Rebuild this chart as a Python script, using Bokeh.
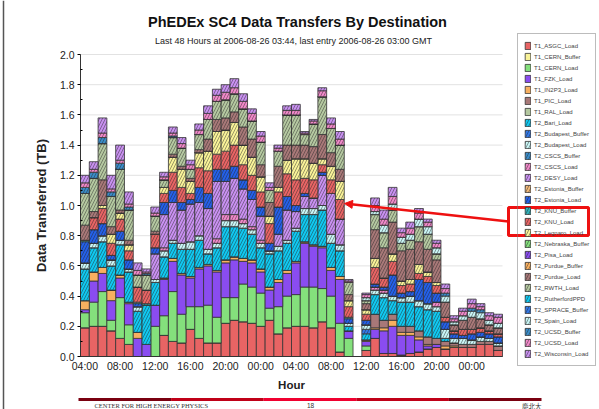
from bokeh.plotting import figure
from bokeh.models import (Range1d, FixedTicker, Label, BoxAnnotation, Arrow,
                          NormalHead, ColumnDataSource)
from bokeh.embed import file_html
from bokeh.resources import INLINE

# ---------------- data ----------------
hours = list(range(48))
tick_positions = [0, 4, 8, 12, 16, 20, 24, 28, 32, 36, 40, 44]
tick_labels = ["04:00", "08:00", "12:00", "16:00", "20:00", "00:00",
               "04:00", "08:00", "12:00", "16:00", "20:00", "00:00"]
y_ticks = [0, .2, .4, .6, .8, 1.0, 1.2, 1.4, 1.6, 1.8, 2.0]
y_minor = [.1, .3, .5, .7, .9, 1.1, 1.3, 1.5, 1.7, 1.9]

series_names = [
    "T1_ASGC_Load", "T1_CERN_Buffer", "T1_CERN_Load", "T1_FZK_Load", "T1_IN2P3_Load",
    "T1_PIC_Load", "T1_RAL_Load", "T2_Bari_Load", "T2_Budapest_Buffer", "T2_Budapest_Load",
    "T2_CSCS_Buffer", "T2_CSCS_Load", "T2_DESY_Load", "T2_Estonia_Buffer", "T2_Estonia_Load",
    "T2_KNU_Buffer", "T2_KNU_Load", "T2_Legnaro_Load", "T2_Nebraska_Buffer", "T2_Pisa_Load",
    "T2_Purdue_Buffer", "T2_Purdue_Load", "T2_RWTH_Load", "T2_RutherfordPPD", "T2_SPRACE_Buffer",
    "T2_Spain_Load", "T2_UCSD_Buffer", "T2_UCSD_Load", "T2_Wisconsin_Load"]

series_colors = [
    "#e86464", "#f8f298", "#84e07c", "#8a4cf0", "#f8b060", "#a87878", "#b4c8a0",
    "#10c8f0", "#3278e6", "#c8f4f4", "#3a8cc8", "#f088c8", "#c890f0", "#f0b878",
    "#2460e8", "#30b0b8", "#e86464", "#f8f298", "#84e07c", "#8a4cf0", "#f8b060",
    "#a87878", "#b4c8a0", "#10c8f0", "#3278e6", "#c8f4f4", "#3a8cc8", "#f088c8",
    "#c890f0"]

T1_ASGC_Load = [.19, .20, .20, .17, .12, .08, 0, 0, 0, .14, .10, .09, .18, .12, .09, .09, .22, .24, .23, .22, .20, .24, .15, .19, .20, .20, .19, .23, .19, .03, 0, 0, .04, .12, .02, .02, .01, .02, .03, .05, .06, .05, .06, .06, .06, .08, .08, .04]
T1_CERN_Buffer = [0] * 48
T1_CERN_Load = [.10, .16, .23, .07, .27, .13, 0, 0, .20, .13, .33, .19, .15, .21, .25, .17, .17, .15, .25, .24, .22, .08, .18, .21, .21, .26, .27, .22, .21, .19, .12, 0, .03, 0, 0, 0, 0, 0, 0, 0, 0, 0, 0, 0, 0, 0, 0, 0]
T1_FZK_Load = [.02, .14, .12, .13, .13, .14, .12, .08, .14, .24, .20, .26, .19, .25, .26, .30, .23, .25, .15, .16, .14, .12, .16, .15, .21, .29, .27, .27, .17, .29, .05, 0, .03, .06, .15, .18, .13, .12, .08, .02, .02, 0, 0, 0, 0, 0, 0, 0]
T1_IN2P3_Load = [.06, .06, .04, .07, .02, .01, .04, 0, 0, .01, .02, .01, .01, .01, .01, .01, .02, .02, .02, .02, .02, .02, .02, .02, .01, .01, .01, .01, .02, .02, 0, 0, .01, .01, .02, .04, .02, .02, .02, .01, 0, .02, .01, 0, 0, 0, 0, 0]
T1_PIC_Load = [0, 0, 0, 0, 0, 0, 0, 0, 0, 0, 0, 0, 0, 0, 0, 0, 0, 0, 0, 0, 0, 0, 0, 0, 0, 0, 0, 0, 0, 0, 0, 0, 0, .09, .05, .04, .04, .04, .04, .05, .04, .03, .02, .02, .02, .02, .02, .03]
T1_RAL_Load = [0] * 48
T2_Bari_Load = [.21, .16, .17, .16, .20, .20, .14, .26, .15, .14, .10, .16, .18, .18, .07, .15, .22, .20, .20, .17, .14, .22, .19, .18, .20, .18, .20, .24, .16, .17, .03, 0, .04, .13, .15, .09, .16, .16, .16, .18, .18, .02, 0, 0, 0, 0, 0, 0]
T2_Budapest_Buffer = [0, 0, 0, 0, 0, 0, 0, 0, 0, 0, 0, 0, 0, 0, 0, 0, 0, 0, 0, 0, 0, 0, 0, 0, 0, 0, 0, 0, 0, 0, 0, 0, .03, 0, 0, 0, 0, 0, 0, 0, 0, 0, 0, 0, 0, 0, 0, 0]
T2_Budapest_Load = [.04, .03, .04, .04, .03, .02, .03, 0, .02, .04, .02, .04, .05, .03, .03, .03, .04, .04, .03, .03, .03, .02, .03, .02, .02, .04, .04, .03, .06, .04, .02, 0, .03, .03, .03, .03, .03, .04, .04, .04, .03, .06, .03, .04, .03, .03, .02, .02]
T2_CSCS_Buffer = [0] * 48
T2_CSCS_Load = [0, 0, 0, 0, 0, 0, 0, 0, 0, .02, 0, 0, 0, 0, 0, .03, .04, .04, .03, .02, .02, 0, 0, 0, 0, 0, 0, 0, 0, 0, 0, 0, 0, .02, .02, 0, 0, 0, 0, 0, .03, 0, 0, 0, 0, 0, 0, 0]
T2_DESY_Load = [0, 0, 0, 0, 0, 0, 0, 0, .17, .22, .25, .22, .25, .22, .27, .38, .22, .24, .20, .18, .16, 0, .08, .20, .11, .08, .07, .20, .27, .17, 0, 0, 0, 0, 0, 0, 0, 0, 0, 0, 0, 0, 0, 0, 0, 0, 0, 0]
T2_Estonia_Buffer = [0] * 48
T2_Estonia_Load = [.14, .09, .08, .03, .06, .06, .02, 0, .04, .08, .08, .05, .03, .10, .10, .08, .08, .08, .06, .06, .06, .05, .18, .09, .04, .02, 0, .02, 0, 0, .03, 0, .03, .02, .02, .14, .03, .03, .14, .14, .06, .05, .03, .02, .04, .03, .03, .04]
T2_KNU_Buffer = [.01, 0, 0, 0, 0, 0, .01, .01, 0, 0, 0, 0, 0, 0, 0, 0, 0, 0, 0, 0, 0, 0, 0, 0, 0, 0, 0, 0, 0, 0, .01, 0, 0, 0, 0, 0, 0, 0, 0, 0, 0, 0, 0, 0, 0, 0, 0, 0]
T2_KNU_Load = [0, .08, .10, .08, .08, .06, .10, .09, .09, .06, .12, .10, .04, .13, .15, .10, .12, .14, .10, .10, .10, .13, .10, .15, .17, .10, .12, .05, .09, .13, .07, 0, .04, .11, .06, .09, .05, .05, .04, .04, .05, .03, .02, .04, .03, .03, .02, .02]
T2_Legnaro_Load = [0, 0, .02, .06, .04, .04, 0, 0, 0, .04, .10, .12, .08, .10, .13, .15, .14, .15, .13, .12, .10, .05, .03, .09, .14, .13, .11, .04, .09, .12, .04, 0, .03, .06, 0, .05, .03, .03, .06, .03, .02, 0, 0, 0, 0, 0, 0, 0]
T2_Nebraska_Buffer = [0] * 48
T2_Pisa_Load = [0] * 48
T2_Purdue_Buffer = [0] * 48
T2_Purdue_Load = [.10, .04, .17, .05, .02, .03, 0, 0, .02, 0, .02, .02, .02, .02, .08, .08, .08, .07, .12, .12, .08, .09, .14, .10, .09, .09, .11, .16, .09, .08, .04, 0, .04, .19, .20, .21, .20, .20, .15, .15, .15, .10, .04, .06, .08, .06, .04, .04]
T2_RWTH_Load = [.21, .22, .24, .20, .27, .20, .08, .10, .10, .05, .11, .12, .06, .10, .13, .12, .12, .12, .12, .12, .15, .08, .10, .20, .20, .07, .15, .25, .16, .16, .08, 0, .02, .10, .10, .08, .05, .06, .10, .10, .04, 0, 0, 0, 0, 0, 0, 0]
T2_RutherfordPPD = [0] * 48
T2_SPRACE_Buffer = [0] * 48
T2_Spain_Load = [0, 0, 0, 0, 0, 0, 0, 0, 0, 0, 0, 0, 0, 0, 0, 0, 0, 0, 0, 0, 0, 0, 0, 0, 0, 0, 0, 0, 0, 0, 0, 0, .02, .02, .05, .04, .04, .04, .05, .05, .04, .04, .02, .03, .04, .04, .03, .03]
T2_UCSD_Buffer = [.04, .04, .04, .03, .04, .02, 0, .01, 0, 0, .01, 0, 0, 0, 0, 0, 0, 0, 0, 0, 0, 0, 0, 0, 0, 0, 0, 0, 0, 0, 0, 0, 0, 0, 0, 0, 0, 0, 0, 0, 0, .02, 0, 0, .02, .02, 0, 0]
T2_UCSD_Load = [.03, .02, .03, .02, .02, .02, .03, .01, .02, .02, .02, .03, .03, .03, .04, .04, .05, .04, .05, .05, .04, .02, .02, .03, .03, .01, .02, .04, .03, .04, .01, 0, .02, .04, .04, .05, .03, .04, .04, .03, .03, .03, .02, .03, .03, .02, .03, .04]
T2_Wisconsin_Load = [.05, .05, .10, .09, .10, .08, .05, .02, .04, .03, .04, .04, .03, .04, .05, .04, .05, .06, .05, .03, .03, .03, .02, .03, .04, .01, .01, .02, .04, .05, .01, 0, .01, .05, .06, .06, .03, .04, .03, .02, .02, .03, .02, .02, .03, .02, .02, .02]

series_values = [
    T1_ASGC_Load, T1_CERN_Buffer, T1_CERN_Load, T1_FZK_Load, T1_IN2P3_Load,
    T1_PIC_Load, T1_RAL_Load, T2_Bari_Load, T2_Budapest_Buffer, T2_Budapest_Load,
    T2_CSCS_Buffer, T2_CSCS_Load, T2_DESY_Load, T2_Estonia_Buffer, T2_Estonia_Load,
    T2_KNU_Buffer, T2_KNU_Load, T2_Legnaro_Load, T2_Nebraska_Buffer, T2_Pisa_Load,
    T2_Purdue_Buffer, T2_Purdue_Load, T2_RWTH_Load, T2_RutherfordPPD, T2_SPRACE_Buffer,
    T2_Spain_Load, T2_UCSD_Buffer, T2_UCSD_Load, T2_Wisconsin_Load]

# ---------------- figure ----------------
W, H = 599, 409
# frame covers the whole canvas; axes are pinned inside it
PX_PER_HOUR = 422 / 48.0      # bars occupy pixels 80..502
PX_PER_TB = 151.0             # 0 TB at y=356, 2 TB at y=54
x0 = -0.5 - 80 / PX_PER_HOUR
x1 = -0.5 + (W - 80) / PX_PER_HOUR
y0 = -(H - 356) / PX_PER_TB
y1 = 356 / PX_PER_TB

p = figure(width=W, height=H, output_backend="svg", toolbar_location=None,
           title=None, x_range=Range1d(x0, x1), y_range=Range1d(y0, y1),
           min_border_left=0, min_border_right=0, min_border_top=0,
           min_border_bottom=0)
p.outline_line_color = None
p.background_fill_color = "white"
p.border_fill_color = "white"
p.xgrid.visible = False
p.ygrid.visible = False

# horizontal grid lines across the bar area
p.segment(x0=[-0.5] * len(y_ticks[1:]), x1=[47.5] * len(y_ticks[1:]),
          y0=y_ticks[1:], y1=y_ticks[1:], line_color="#e2e2e2", line_width=1,
          level="underlay")

keys = ["s%d" % i for i in range(len(series_names))]
data = {"x": hours}
for k, v in zip(keys, series_values):
    data[k] = v
source = ColumnDataSource(data)

hatches = [" " if n.startswith("T1") else "/" for n in series_names]
p.vbar_stack(keys, x="x", width=1.0, source=source,
             fill_color=series_colors, line_color="#333333", line_width=0.8,
             hatch_pattern=hatches, hatch_color="#222222", hatch_alpha=0.75,
             hatch_scale=6, hatch_weight=0.6,
             legend_label=series_names)

# axes (pinned at the data origin)
p.xaxis.fixed_location = 0
p.xaxis.bounds = (-0.5, 47.5)
p.xaxis.ticker = FixedTicker(ticks=tick_positions)
p.xaxis.major_label_overrides = {t: l for t, l in zip(tick_positions, tick_labels)}
p.xaxis.major_tick_out = 0
p.xaxis.major_tick_in = 0
p.xaxis.minor_tick_out = 0
p.xaxis.axis_line_color = "#333333"
p.xaxis.major_label_standoff = 3
p.xaxis.major_label_text_font = "Liberation Sans"
p.xaxis.major_label_text_font_size = "10.5px"
p.xaxis.major_label_text_color = "#222222"
p.xaxis.axis_label = "Hour"
p.xaxis.axis_label_text_font = "Liberation Sans"
p.xaxis.axis_label_text_font_style = "bold"
p.xaxis.axis_label_text_font_size = "11.5px"
p.xaxis.axis_label_standoff = 4
p.xaxis.axis_label_text_color = "#222222"

p.yaxis.fixed_location = -0.5
p.yaxis.bounds = (0, 2.0)
p.yaxis.ticker = FixedTicker(ticks=y_ticks, minor_ticks=y_minor)
p.yaxis.major_label_overrides = {0: "0.0", 1.0: "1.0", 2.0: "2.0"}
p.yaxis.major_tick_out = 3
p.yaxis.major_tick_in = 0
p.yaxis.minor_tick_in = 2
p.yaxis.minor_tick_out = 0
p.yaxis.axis_line_color = "#333333"
p.yaxis.major_label_standoff = 3
p.yaxis.major_label_text_font = "Liberation Sans"
p.yaxis.major_label_text_font_size = "10.5px"
p.yaxis.major_label_text_color = "#222222"
p.yaxis.axis_label = "Data Transferred (TB)"
p.yaxis.axis_label_text_font = "Liberation Sans"
p.yaxis.axis_label_text_font_style = "bold"
p.yaxis.axis_label_text_font_size = "13px"
p.yaxis.axis_label_standoff = 8
p.yaxis.axis_label_text_color = "#222222"

# legend (transparent fill so the red box over it stays visible)
leg = p.legend[0]
leg.location = (517, 43)
leg.label_text_font = "Liberation Sans"
leg.label_text_font_size = "6px"
leg.label_height = 11
leg.glyph_height = 9
leg.glyph_width = 7
leg.spacing = 0
leg.padding = 6
leg.margin = 0
leg.label_standoff = 3
leg.border_line_color = "#7a7a7a"
leg.border_line_width = 1
leg.background_fill_alpha = 0.0

# titles
p.add_layout(Label(x=297, y=388, x_units="screen", y_units="screen",
                   text="PhEDEx SC4 Data Transfers By Destination",
                   text_align="center", text_baseline="middle",
                   text_font="Liberation Sans", text_font_style="bold",
                   text_font_size="14.5px", text_color="#111111"))
p.add_layout(Label(x=293, y=369, x_units="screen", y_units="screen",
                   text="Last 48 Hours at 2006-08-26 03:44, last entry 2006-08-26 03:00 GMT",
                   text_align="center", text_baseline="middle",
                   text_font="Liberation Sans", text_font_size="9px",
                   text_color="#222222"))

# red annotation: box around the KNU legend entries and arrow to the bar
p.add_layout(BoxAnnotation(left=508, right=588, bottom=174, top=202,
                           left_units="screen", right_units="screen",
                           bottom_units="screen", top_units="screen",
                           fill_alpha=0, line_color="#ee1111", line_alpha=1.0,
                           line_width=3, level="overlay"))
p.add_layout(Arrow(x_start=508, y_start=188, x_end=344, y_end=206,
                   start_units="screen", end_units="screen",
                   line_color="#ee1111", line_width=2.5, level="overlay",
                   end=NormalHead(size=8, fill_color="#ee1111", line_color="#ee1111")))

# slide border at the left
p.add_layout(Arrow(x_start=3, y_start=0, x_end=3, y_end=409,
                   start_units="screen", end_units="screen", end=None,
                   line_color="#555555", line_width=1.5))

# footer
footer_colors = ["#7a0010", "#c00018", "#f00030", "#c00018", "#7a0010"]
seg = 463 / len(footer_colors)
for i, c in enumerate(footer_colors):
    p.add_layout(Arrow(x_start=78 + i * seg, y_start=10, x_end=78 + (i + 1) * seg, y_end=10,
                       start_units="screen", end_units="screen", end=None,
                       line_color=c, line_width=3))
p.add_layout(Label(x=94, y=4, x_units="screen", y_units="screen",
                   text="CENTER FOR HIGH ENERGY PHYSICS", text_baseline="middle",
                   text_font="Liberation Serif", text_font_size="6.5px", text_color="#333333"))
p.add_layout(Label(x=310, y=4, x_units="screen", y_units="screen",
                   text="18", text_align="center", text_baseline="middle",
                   text_font="Liberation Sans", text_font_size="6.5px", text_color="#333333"))
p.add_layout(Label(x=541, y=4, x_units="screen", y_units="screen",
                   text="慶北大", text_align="right", text_baseline="middle",
                   text_font="Noto Sans CJK KR", text_font_size="6.5px", text_color="#333333"))

open("out.html", "w").write(file_html(p, INLINE))
